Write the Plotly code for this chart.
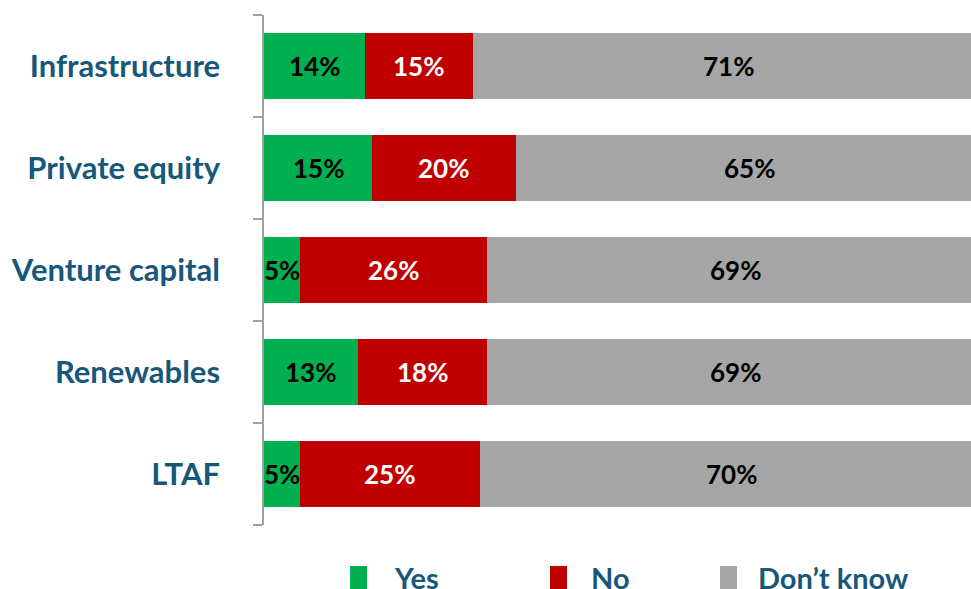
import plotly.graph_objects as go

# Survey responses per asset class (percent of respondents)
categories = ["Infrastructure", "Private equity", "Venture capital", "Renewables", "LTAF"]
yes = [14, 15, 5, 13, 5]
no = [15, 20, 26, 18, 25]
dont_know = [71, 65, 69, 69, 70]

series = [
    ("Yes", yes, "#00B050", "#000000"),
    ("No", no, "#C00000", "#FFFFFF"),
    ("Don\u2019t know", dont_know, "#A6A6A6", "#000000"),
]

W, H = 971, 589
L, R, T, B = 264, 0, 15, 64
PW, PH = W - L - R, H - T - B
LABEL_FONT = "Lato"
TEAL = "#17587A"


def px_x(p):
    return (p - L) / PW


def px_y(p):
    return (H - B - p) / PH


fig = go.Figure()
for name, vals, color, _ in series:
    fig.add_trace(go.Bar(
        y=categories, x=vals, name=name, orientation="h",
        marker=dict(color=color, line=dict(width=0)),
        showlegend=False, hoverinfo="skip",
    ))

# Value labels centred in each segment
annotations = []
base = [0] * len(categories)
for name, vals, color, tcolor in series:
    for i, (c, v) in enumerate(zip(categories, vals)):
        annotations.append(dict(
            x=base[i] + v / 2, y=c, xref="x", yref="y",
            text=f"{v}%", showarrow=False,
            font=dict(family=LABEL_FONT, size=26, color=tcolor, weight="bold"),
        ))
        base[i] += v

# Legend drawn as swatches and labels under the plot
shapes = []
legend_items = [("Yes", "#00B050", 350, 392), ("No", "#C00000", 550, 589),
                ("Don\u2019t know", "#A6A6A6", 720, 756)]
for label, color, sx, tx in legend_items:
    shapes.append(dict(type="rect", xref="paper", yref="paper",
                       x0=px_x(sx), x1=px_x(sx + 17), y0=px_y(566), y1=px_y(595),
                       fillcolor=color, line=dict(width=0)))
    annotations.append(dict(
        x=px_x(tx), y=px_y(577), xref="paper", yref="paper",
        xanchor="left", yanchor="middle", text=label, showarrow=False,
        font=dict(family=LABEL_FONT, size=29, color=TEAL, weight="bold"),
    ))

fig.update_layout(
    barmode="stack", bargap=0.36,
    width=W, height=H,
    margin=dict(l=L, r=R, t=T, b=B, pad=0),
    paper_bgcolor="white", plot_bgcolor="white",
    annotations=annotations, shapes=shapes,
    xaxis=dict(range=[0, 98.2], visible=False, fixedrange=True),
    yaxis=dict(
        categoryorder="array", categoryarray=categories[::-1],
        showline=True, linecolor="#A0A0A0", linewidth=1.5,
        ticks="outside", tickson="boundaries", ticklen=9, tickcolor="#A0A0A0", tickwidth=1.5,
        showgrid=False, ticklabelstandoff=36,
        tickfont=dict(family=LABEL_FONT, size=31, color=TEAL, weight="bold"),
        fixedrange=True,
    ),
)

fig.write_html("out.html")
